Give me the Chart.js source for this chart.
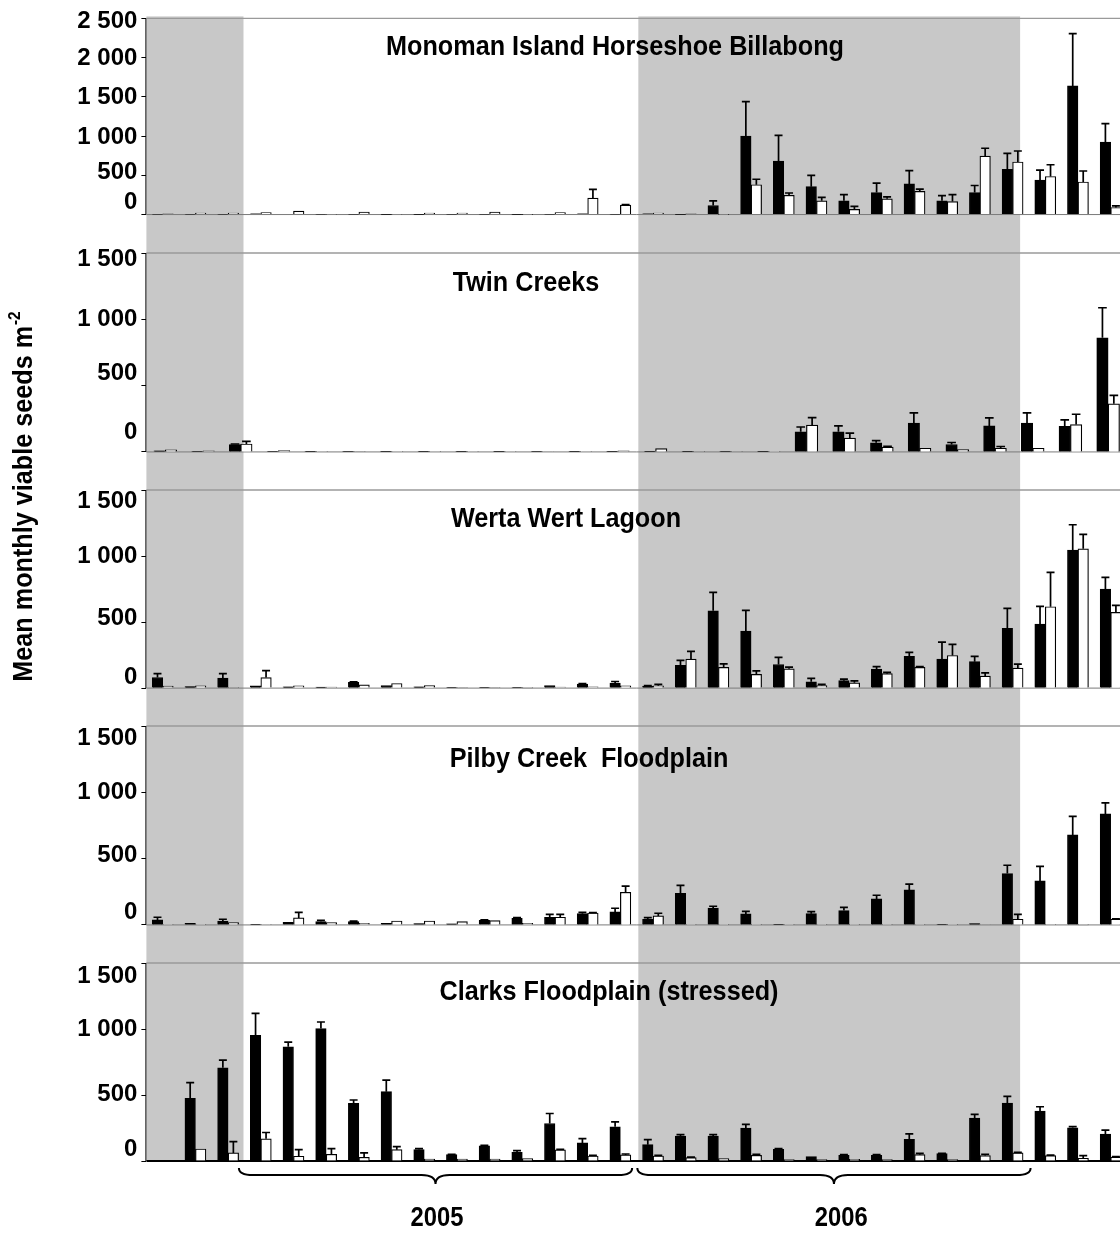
<!DOCTYPE html>
<html>
<head>
<meta charset="utf-8">
<script src="https://cdn.jsdelivr.net/npm/chart.js@4.4.1/dist/chart.umd.min.js"></script>
<style>
html,body{margin:0;padding:0;overflow:hidden;background:#fff;width:1120px;height:1234px;}
#wrap{position:relative;width:1127px;height:1234px;overflow:hidden;}
canvas{display:block;}
</style>
</head>
<body>
<div id="wrap"></div>
<script>
// ---------------- DATA ----------------
const months = ['Oct 2004','Nov 2004','Dec 2004','Jan 2005','Feb 2005','Mar 2005','Apr 2005','May 2005','Jun 2005','Jul 2005','Aug 2005','Sep 2005','Oct 2005','Nov 2005','Dec 2005','Jan 2006','Feb 2006','Mar 2006','Apr 2006','May 2006','Jun 2006','Jul 2006','Aug 2006','Sep 2006','Oct 2006','Nov 2006','Dec 2006','Jan 2007','Feb 2007','Mar 2007'];
const twinCreeksSamples = ['S1','S2','S3','S4','S5','S6','S7','S8','S9','S10','S11','S12','S13','S14','S15','S16','S17','S18','S19','S20','S21','S22','S23','S24','S25','S26'];

const siteNames = ['Monoman Island Horseshoe Billabong','Twin Creeks','Werta Wert Lagoon','Pilby Creek  Floodplain','Clarks Floodplain (stressed)'];
const yAxisTitle = 'Mean monthly viable seeds m';
const yAxisTitleSup = '-2';

const ticksMonoman = [0,500,1000,1500,2000,2500];
const tickLabelsMonoman = ['0','500','1 000','1 500','2 000','2 500'];
const ticksOther = [0,500,1000,1500];
const tickLabelsOther = ['0','500','1 000','1 500'];

// Monoman Island Horseshoe Billabong
const monomanBlack    = [5,5,5,10,0,5,5,3,3,5,5,3,5,10,5,10,3,115,1000,680,355,175,280,390,175,280,575,440,1640,925];
const monomanBlackErr = [0,0,0,0,0,0,0,0,0,0,0,0,0,0,0,0,0,60,440,330,145,80,120,170,65,90,205,125,665,235];
const monomanWhite    = [8,20,20,25,45,5,30,5,20,20,30,3,25,210,120,20,8,3,380,245,175,65,200,295,165,745,670,485,415,90];
const monomanWhiteErr = [0,0,0,0,0,0,0,0,0,0,0,0,0,110,8,0,0,0,70,30,45,38,25,30,90,100,140,150,140,20];

// Twin Creeks (26 sampling dates)
const twinBlack    = [8,5,55,5,2,5,2,2,2,2,5,2,2,2,2,5,2,152,152,69,218,56,196,218,193,861];
const twinBlackErr = [0,0,5,0,0,0,0,0,0,0,0,0,0,0,0,0,0,36,44,17,77,15,61,77,48,226];
const twinWhite    = [15,8,60,10,2,5,2,2,2,2,3,2,8,25,5,5,2,203,104,36,28,18,28,28,206,363];
const twinWhiteErr = [0,0,20,0,0,0,0,0,0,0,0,0,0,0,0,0,0,56,38,7,0,0,13,0,78,64];

// Werta Wert Lagoon
const wertaBlack    = [80,12,75,18,10,8,43,20,10,5,5,3,20,30,38,15,172,585,432,179,48,56,144,240,220,200,452,485,1045,750];
const wertaBlackErr = [30,0,35,0,0,0,4,0,0,0,0,0,0,5,12,3,38,140,156,53,25,12,18,30,128,40,151,134,192,88];
const wertaWhite    = [15,18,3,80,18,8,25,35,20,5,5,2,8,10,18,18,220,157,104,146,20,40,109,157,247,91,152,616,1055,573];
const wertaWhiteErr = [0,0,0,53,0,0,0,0,0,0,0,0,0,0,0,10,58,27,27,13,8,15,10,5,84,25,30,260,109,53];

// Pilby Creek Floodplain
const pilbyBlack    = [38,13,30,5,20,25,25,13,10,8,35,50,58,85,98,43,239,128,83,5,85,108,196,264,5,10,387,332,679,837];
const pilbyBlackErr = [20,0,13,0,0,10,3,0,0,0,3,5,22,10,28,12,60,13,20,0,15,25,28,43,0,0,63,110,140,83];
const pilbyWhite    = [2,2,18,2,53,18,13,30,30,25,33,13,58,90,246,68,2,2,2,2,2,2,2,2,2,3,43,2,1,43];
const pilbyWhiteErr = [0,0,0,0,42,0,0,0,0,0,0,0,22,3,46,20,0,0,0,0,0,0,0,0,0,0,37,0,0,3];

// Clarks Floodplain (stressed)
const clarksBlack    = [0,475,706,952,865,1003,437,525,86,48,114,66,284,137,259,124,188,188,249,89,33,43,43,165,56,325,439,378,251,203];
const clarksBlackErr = [0,119,58,167,36,50,25,87,8,3,5,13,76,33,38,38,12,12,28,5,0,5,5,41,2,28,51,33,10,31];
const clarksWhite    = [0,91,61,168,36,51,28,86,15,15,15,18,84,38,46,38,25,18,43,10,10,13,10,48,10,41,61,41,20,30];
const clarksWhiteErr = [0,0,86,48,50,43,33,23,0,0,0,0,5,5,7,5,5,0,8,0,0,0,0,10,0,10,5,3,21,3];

// shaded periods (index units on the monthly axis)
const shadedPeriods = [[-0.5, 2.47], [14.55, 26.23]];
// year braces (index units on the monthly axis)
const yearBraces = [
  {label:'2005', from:2.33, to:14.36, labelAt:8.39},
  {label:'2006', from:14.52, to:26.55, labelAt:20.76}
];

// ---------------- LAYOUT / STYLE ----------------
const FONT = '"Liberation Sans", Arial, sans-serif';
const W = 1127;
const panels = [
  {cats:months,            black:monomanBlack, blackErr:monomanBlackErr, white:monomanWhite, whiteErr:monomanWhiteErr, min:-490, max:2500, ticks:ticksMonoman, labels:tickLabelsMonoman,
   canvasTop:0,   padTop:16, plotH:237, padBottom:20, band:[0,253],    titleX:615, titleDY:29, bar:10.5, labelShift:[-12,-3,1,1,1,3]},
  {cats:twinCreeksSamples, black:twinBlack,    blackErr:twinBlackErr,    white:twinWhite,    whiteErr:twinWhiteErr,    min:-287, max:1500, ticks:ticksOther, labels:tickLabelsOther,
   canvasTop:233, padTop:20, plotH:237, padBottom:20, band:[253,490],  titleX:526, titleDY:30, bar:11.4, labelShift:[-20,-12,0,6]},
  {cats:months,            black:wertaBlack,   blackErr:wertaBlackErr,   white:wertaWhite,   whiteErr:wertaWhiteErr,   min:-287, max:1500, ticks:ticksOther, labels:tickLabelsOther,
   canvasTop:470, padTop:20, plotH:236, padBottom:20, band:[490,726],  titleX:566, titleDY:29, bar:10.5, labelShift:[-11,-4,0,11]},
  {cats:months,            black:pilbyBlack,   blackErr:pilbyBlackErr,   white:pilbyWhite,   whiteErr:pilbyWhiteErr,   min:-287, max:1500, ticks:ticksOther, labels:tickLabelsOther,
   canvasTop:706, padTop:20, plotH:237, padBottom:20, band:[726,963],  titleX:589, titleDY:33, bar:10.5, labelShift:[-13,-3,0,12]},
  {cats:months,            black:clarksBlack,  blackErr:clarksBlackErr,  white:clarksWhite,  whiteErr:clarksWhiteErr,  min:0,    max:1500, ticks:ticksOther, labels:tickLabelsOther,
   canvasTop:943, padTop:20, plotH:198, padBottom:73, band:[963,1234], titleX:609, titleDY:29, bar:10.5, labelShift:[-12,-1,0,13]}
];
const yTitleCenter = {x:24, y:497};

// pixel of a monthly index (same geometry in every panel)
function monthPixel(a, idx) {
  return a.left + (idx + 0.5) * (a.right - a.left) / months.length;
}

function drawBrace(ctx, x1, x2, y0) {
  const mid = (x1 + x2) / 2, r = 14, yl = y0 + 7, yt = y0 + 16;
  ctx.beginPath();
  ctx.moveTo(x1, y0);
  ctx.quadraticCurveTo(x1, yl, x1 + r, yl);
  ctx.lineTo(mid - r, yl);
  ctx.quadraticCurveTo(mid, yl, mid, yt);
  ctx.quadraticCurveTo(mid, yl, mid + r, yl);
  ctx.lineTo(x2 - r, yl);
  ctx.quadraticCurveTo(x2, yl, x2, y0);
  ctx.stroke();
}

function condensedText(ctx, text, x, y, sx) {
  ctx.save();
  ctx.translate(x, y);
  ctx.scale(sx, 1);
  ctx.textAlign = 'center';
  ctx.fillText(text, 0, 0);
  ctx.restore();
}

function decorFor(k) {
  const p = panels[k];
  const last = k === panels.length - 1;
  return {
    id: 'decor' + k,
    beforeDraw(chart) {
      // nudge the y tick labels the way the original figure places them
      const s = chart.scales.y;
      if (!s || typeof s.getLabelItems !== 'function') return;
      const items = s.getLabelItems();
      if (!items || items._shifted) return;
      items._shifted = true;
      items.forEach((it, i) => {
        const tr = (it.options && it.options.translation) || it.translation;
        if (tr) tr[1] += (p.labelShift[i] || 0);
      });
    },
    beforeDatasetsDraw(chart) {
      const {ctx, chartArea: a, scales: sc} = chart;
      ctx.save();
      ctx.fillStyle = '#c8c8c8';
      const extra = k === 0 ? 2 : 0;
      shadedPeriods.forEach(([s, e]) => {
        const x1 = Math.max(a.left, monthPixel(a, s));
        const x2 = Math.min(a.right, monthPixel(a, e));
        ctx.fillRect(x1, a.top - extra, x2 - x1, a.bottom - a.top + extra);
      });
      const yTop = sc.y.getPixelForValue(p.max), y0 = sc.y.getPixelForValue(0);
      ctx.strokeStyle = '#9a9a9a'; ctx.lineWidth = 1.3;
      ctx.beginPath(); ctx.moveTo(a.left, yTop); ctx.lineTo(a.right, yTop); ctx.stroke();
      ctx.strokeStyle = last ? '#000' : '#7a7a7a'; ctx.lineWidth = last ? 2 : 1;
      ctx.beginPath(); ctx.moveTo(a.left, y0); ctx.lineTo(a.right, y0); ctx.stroke();
      ctx.strokeStyle = '#000'; ctx.lineWidth = 1;
      ctx.beginPath(); ctx.moveTo(a.left - 0.5, yTop); ctx.lineTo(a.left - 0.5, y0); ctx.stroke();
      ctx.restore();
    },
    afterDatasetsDraw(chart) {
      const ctx = chart.ctx, ys = chart.scales.y;
      ctx.save();
      ctx.strokeStyle = '#000'; ctx.lineWidth = 1.7;
      chart.data.datasets.forEach((ds, di) => {
        const meta = chart.getDatasetMeta(di);
        meta.data.forEach((bar, i) => {
          const err = ds.errors[i];
          if (!err) return;
          const yv = ys.getPixelForValue(ds.data[i]);
          const ye = ys.getPixelForValue(ds.data[i] + err);
          const cap = bar.width * 0.38;
          ctx.beginPath();
          ctx.moveTo(bar.x, yv); ctx.lineTo(bar.x, ye);
          ctx.moveTo(bar.x - cap, ye); ctx.lineTo(bar.x + cap, ye);
          ctx.stroke();
        });
      });
      ctx.restore();
    },
    afterDraw(chart) {
      const {ctx, chartArea: a, scales: sc} = chart;
      ctx.save();
      ctx.fillStyle = '#000';
      ctx.textBaseline = 'middle';
      // panel title
      ctx.font = 'bold 28px ' + FONT;
      condensedText(ctx, siteNames[k], p.titleX, sc.y.getPixelForValue(p.max) + p.titleDY, 0.9);
      // shared y-axis title: each panel draws the part that falls in its own band
      ctx.save();
      ctx.beginPath();
      ctx.rect(0, p.band[0] - p.canvasTop, 70, p.band[1] - p.band[0]);
      ctx.clip();
      ctx.translate(yTitleCenter.x, yTitleCenter.y - p.canvasTop);
      ctx.rotate(-Math.PI / 2);
      ctx.scale(0.9, 1);
      ctx.font = 'bold 28px ' + FONT;
      const w1 = ctx.measureText(yAxisTitle).width;
      ctx.font = 'bold 17px ' + FONT;
      const w2 = ctx.measureText(yAxisTitleSup).width;
      const start = -(w1 + w2) / 2;
      ctx.textAlign = 'left';
      ctx.font = 'bold 28px ' + FONT;
      ctx.fillText(yAxisTitle, start, 0);
      ctx.font = 'bold 17px ' + FONT;
      ctx.fillText(yAxisTitleSup, start + w1 + 1, -9);
      ctx.restore();
      // year braces under the last panel
      if (last) {
        ctx.strokeStyle = '#000'; ctx.lineWidth = 2;
        ctx.font = 'bold 28px ' + FONT;
        yearBraces.forEach(b => {
          drawBrace(ctx, monthPixel(a, b.from), monthPixel(a, b.to), a.bottom + 7);
          condensedText(ctx, b.label, monthPixel(a, b.labelAt), a.bottom + 57, 0.85);
        });
      }
      ctx.restore();
    }
  };
}

const wrap = document.getElementById('wrap');
panels.forEach((p, k) => {
  const H = p.padTop + p.plotH + p.padBottom;
  const canvas = document.createElement('canvas');
  canvas.width = W; canvas.height = H;
  canvas.style.cssText = 'position:absolute;left:0;top:' + p.canvasTop + 'px;width:' + W + 'px;height:' + H + 'px;';
  wrap.appendChild(canvas);
  new Chart(canvas, {
    type: 'bar',
    data: {
      labels: p.cats,
      datasets: [
        {label: siteNames[k] + ' (black)', data: p.black, errors: p.blackErr,
         backgroundColor: '#000', borderColor: '#000', borderWidth: 1, barThickness: p.bar},
        {label: siteNames[k] + ' (white)', data: p.white, errors: p.whiteErr,
         backgroundColor: '#fff', borderColor: '#000', borderWidth: 1.2, barThickness: p.bar}
      ]
    },
    options: {
      responsive: false,
      animation: false,
      devicePixelRatio: 1,
      layout: {padding: {top: p.padTop, bottom: p.padBottom, left: 0, right: 0}},
      plugins: {legend: {display: false}, tooltip: {enabled: false}, title: {display: false}},
      scales: {
        x: {type: 'category', offset: true, display: false},
        y: {
          type: 'linear', position: 'left', min: p.min, max: p.max,
          border: {display: false},
          grid: {drawOnChartArea: false, drawTicks: true, tickLength: 5, color: '#000', lineWidth: 1},
          ticks: {font: {family: FONT, size: 24, weight: 'bold'}, color: '#000', padding: 4, autoSkip: false,
                  callback: (v, idx) => p.labels[idx]},
          afterBuildTicks(s) { s.ticks = p.ticks.map(v => ({value: v})); },
          afterFit(s) { s.width = 146.4; }
        }
      }
    },
    plugins: [decorFor(k)]
  });
});
</script>
</body>
</html>
